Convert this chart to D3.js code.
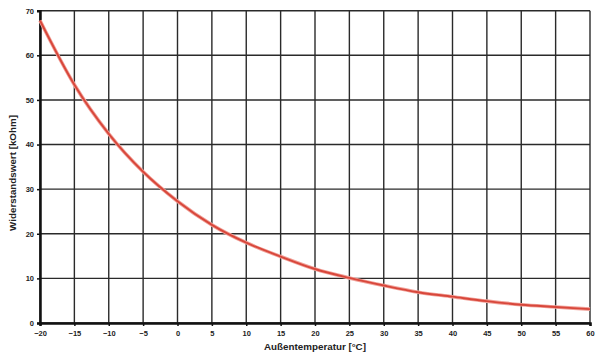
<!DOCTYPE html>
<html>
<head>
<meta charset="utf-8">
<script src="https://cdn.jsdelivr.net/npm/d3@7.9.0/dist/d3.min.js"></script>
<style>
  body { margin: 0; background: #fff; }
  svg text { font-family: "Liberation Sans", Arial, sans-serif; font-weight: bold; fill: #222; }
</style>
</head>
<body>
<svg id="chart" width="595" height="356"></svg>
<script>
// temperature (°C) and resistance (kOhm)
const temps = [-20, -15, -10, -5, 0, 5, 10, 15, 20, 25, 30, 35, 40, 45, 50, 55, 60];
const resistance = [67.8, 53.4, 42.4, 33.9, 27.3, 22.0, 18.0, 14.9, 12.1, 10.1, 8.4, 6.9, 5.9, 4.9, 4.1, 3.6, 3.1];
const xTicks = d3.range(-20, 61, 5);
const yTicks = d3.range(0, 71, 10);

const svg = d3.select('#chart');
const margin = { top: 10.7, right: 5, bottom: 33, left: 40 };
const width = 595 - margin.left - margin.right;
const height = 356 - margin.top - margin.bottom;

const x = d3.scaleLinear().domain([-20, 60]).range([0, width]);
const y = d3.scaleLinear().domain([0, 70]).range([height, 0]);

const g = svg.append('g').attr('transform', `translate(${margin.left},${margin.top})`);

// grid
g.append('g')
  .selectAll('line')
  .data(xTicks)
  .join('line')
  .attr('x1', d => x(d)).attr('x2', d => x(d))
  .attr('y1', 0).attr('y2', height)
  .attr('stroke', '#2a2a2a').attr('stroke-width', 1.4);

g.append('g')
  .selectAll('line')
  .data(yTicks)
  .join('line')
  .attr('x1', 0).attr('x2', width)
  .attr('y1', d => y(d)).attr('y2', d => y(d))
  .attr('stroke', '#2a2a2a').attr('stroke-width', 1.4);

// axes
const xAxis = g.append('g')
  .attr('transform', `translate(0,${height})`)
  .call(d3.axisBottom(x).tickValues(xTicks).tickSize(3).tickPadding(5));
const yAxis = g.append('g')
  .call(d3.axisLeft(y).tickValues(yTicks).tickSize(3).tickPadding(3));

[xAxis, yAxis].forEach(a => {
  a.select('.domain').attr('stroke', '#111').attr('stroke-width', 2.5);
  a.selectAll('.tick line').attr('stroke', '#111').attr('stroke-width', 1.5);
  a.selectAll('.tick text').attr('font-size', 7.5).attr('fill', '#333');
});

// curve
const line = d3.line()
  .x((d, i) => x(temps[i]))
  .y(d => y(d))
  .curve(d3.curveMonotoneX);

g.append('path')
  .datum(resistance)
  .attr('d', line)
  .attr('fill', 'none')
  .attr('stroke', '#f1a199')
  .attr('stroke-width', 3.6);

g.append('path')
  .datum(resistance)
  .attr('d', line)
  .attr('fill', 'none')
  .attr('stroke', '#d8473b')
  .attr('stroke-width', 1.9);

// axis titles
svg.append('text')
  .attr('x', 315)
  .attr('y', 350)
  .attr('text-anchor', 'middle')
  .attr('font-size', 9.8)
  .text('Außentemperatur [°C]');

svg.append('text')
  .attr('transform', 'translate(15.5,173) rotate(-90)')
  .attr('text-anchor', 'middle')
  .attr('font-size', 9.8)
  .text('Widerstandswert [kOhm]');
</script>
</body>
</html>
